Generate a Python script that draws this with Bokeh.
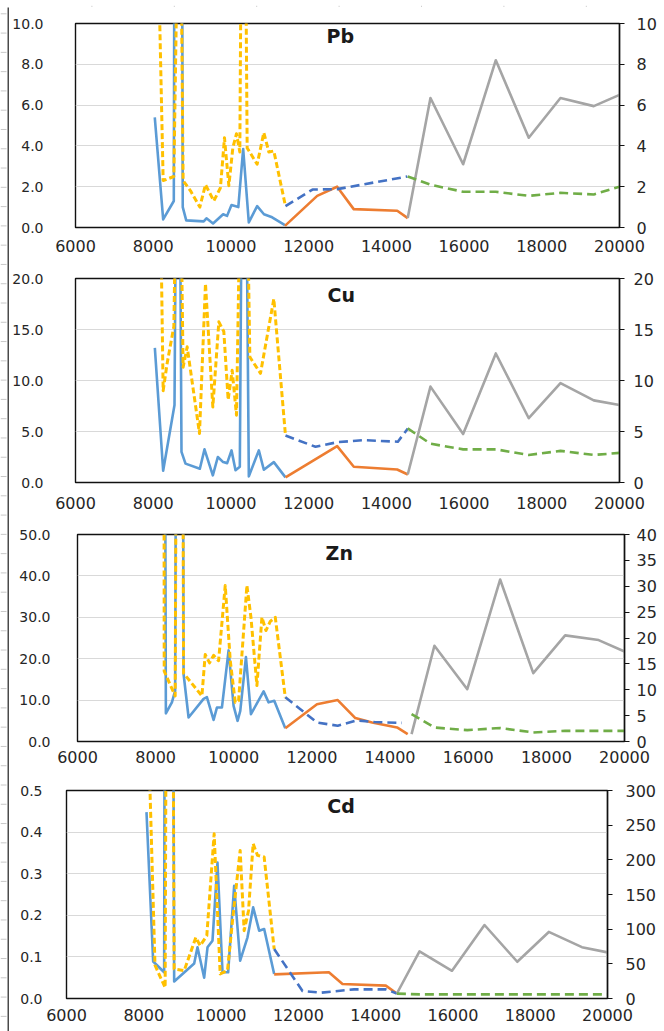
from bokeh.plotting import figure
from bokeh.layouts import column, row
from bokeh.models import Range1d, LinearAxis, FixedTicker, PrintfTickFormatter, Label
from bokeh.embed import file_html
from bokeh.resources import INLINE

# ---------------- data ----------------
x_ticks = [6000, 8000, 10000, 12000, 14000, 16000, 18000, 20000]

# common depth positions of the later (gray / green) series
late_x = [14550, 15135, 15976, 16817, 17665, 18481, 19338, 20000]

# Pb
pb_blue_x = [8040, 8256, 8530, 8640, 8760, 8850, 9300, 9370, 9540, 9800, 9900, 10015, 10190, 10315, 10460, 10675, 10850, 11060, 11390]
pb_blue_y = [5.4, 0.4, 1.3, 100.0, 1.0, 0.35, 0.3, 0.45, 0.2, 0.65, 0.57, 1.1, 1.0, 3.85, 0.25, 1.05, 0.65, 0.5, 0.12]
pb_yel_x = [8160, 8256, 8531, 8680, 8770, 8960, 9200, 9345, 9560, 9730, 9834, 9946, 10049, 10143, 10229, 10315, 10418, 10675, 10847, 10976, 11104, 11404]
pb_yel_y = [10.8, 2.3, 2.5, 21.0, 2.3, 1.8, 1.0, 2.1, 1.3, 1.95, 4.4, 2.05, 3.9, 4.6, 3.7, 30.0, 3.9, 3.1, 4.65, 3.7, 3.75, 1.05]
pb_bdash_x = [11404, 12100, 12733, 14540]
pb_bdash_y = [1.05, 1.86, 1.88, 2.5]
pb_orange_x = [11390, 12220, 12733, 13160, 14280, 14550]
pb_orange_y = [0.08, 1.55, 2.0, 0.9, 0.82, 0.46]
pb_gray_y = [0.46, 6.35, 3.1, 8.2, 4.4, 6.35, 5.95, 6.5]
pb_green_y = [2.5, 2.1, 1.75, 1.75, 1.55, 1.7, 1.62, 2.0]

# Cu
cu_blue_x = [8042, 8256, 8548, 8640, 8728, 8831, 9200, 9320, 9534, 9663, 9800, 9903, 10015, 10118, 10229, 10330, 10461, 10718, 10847, 11104, 11404]
cu_blue_y = [13.2, 1.15, 7.6, 60.0, 3.0, 1.85, 1.35, 3.25, 0.7, 2.5, 2.0, 1.9, 3.15, 1.2, 1.55, 60.0, 0.6, 3.15, 1.25, 2.0, 0.5]
cu_yel_x = [8213, 8256, 8359, 8531, 8650, 8770, 8874, 9191, 9345, 9534, 9689, 9817, 9929, 10032, 10143, 10330, 10487, 10761, 11104, 11404]
cu_yel_y = [20.5, 9.0, 11.7, 15.3, 45.0, 11.3, 13.3, 4.8, 19.5, 7.4, 15.75, 14.8, 8.1, 11.0, 6.6, 50.0, 12.3, 10.7, 18.0, 4.6]
cu_bdash_x = [11404, 12177, 12734, 13420, 14296, 14553]
cu_bdash_y = [4.6, 3.5, 3.95, 4.15, 4.0, 5.3]
cu_orange_x = [11404, 12734, 13162, 14277, 14553]
cu_orange_y = [0.5, 3.56, 1.54, 1.27, 0.78]
cu_gray_y = [0.78, 9.4, 4.75, 12.65, 6.3, 9.75, 8.05, 7.6]
cu_green_y = [5.3, 3.8, 3.25, 3.25, 2.7, 3.1, 2.7, 2.9]

# Zn
zn_blue_x = [8219, 8262, 8416, 8500, 8620, 8715, 8843, 9227, 9312, 9483, 9568, 9696, 9867, 9995, 10097, 10166, 10311, 10439, 10763, 10891, 11036, 11318]
zn_blue_y = [150.0, 6.8, 9.45, 12.3, 400.0, 16.3, 5.8, 10.3, 10.7, 5.2, 8.2, 8.2, 22.0, 8.6, 5.0, 7.4, 20.4, 6.6, 12.1, 9.45, 9.85, 3.2]
zn_yel_x = [8205, 8219, 8500, 8620, 8715, 9184, 9269, 9380, 9483, 9611, 9781, 9910, 10038, 10123, 10336, 10439, 10592, 10720, 10823, 10934, 11062, 11318]
zn_yel_y = [200.0, 17.0, 11.0, 300.0, 16.5, 11.0, 21.0, 19.0, 20.8, 19.5, 37.7, 19.5, 9.45, 9.85, 37.7, 30.0, 13.5, 30.0, 26.8, 29.0, 30.0, 10.7]
zn_bdash_x = [11318, 12129, 12660, 13150, 13600, 14300]
zn_bdash_y = [10.7, 4.6, 3.8, 5.1, 4.7, 4.5]
zn_orange_x = [11318, 12129, 12660, 13111, 13539, 14179, 14451]
zn_orange_y = [3.2, 9.0, 10.0, 5.65, 4.6, 3.4, 1.8]
zn_gray_y = [1.42, 18.5, 10.1, 31.3, 13.2, 20.5, 19.6, 17.4]
zn_green_y = [5.3, 2.7, 2.2, 2.6, 1.75, 2.05, 2.05, 2.05]

# Cd
cd_blue_x = [8070, 8243, 8527, 8620, 8786, 9304, 9390, 9563, 9649, 9778, 9907, 10037, 10183, 10339, 10494, 10684, 10830, 10986, 11115, 11374]
cd_blue_y = [0.448, 0.089, 0.063, 5.0, 0.041, 0.084, 0.123, 0.05, 0.123, 0.139, 0.327, 0.063, 0.063, 0.271, 0.091, 0.147, 0.219, 0.163, 0.167, 0.059]
cd_yel_x = [8130, 8290, 8553, 8660, 8786, 9045, 9347, 9459, 9631, 9821, 9977, 10166, 10296, 10494, 10597, 10710, 10830, 10943, 11115, 11374]
cd_yel_y = [0.6, 0.08, 0.026, 3.0, 0.071, 0.067, 0.147, 0.127, 0.151, 0.396, 0.059, 0.067, 0.187, 0.356, 0.163, 0.211, 0.372, 0.344, 0.34, 0.119]
cd_bdash_x = [11374, 12107, 12582, 13443, 14263, 14548]
cd_bdash_y = [0.119, 0.018, 0.014, 0.022, 0.022, 0.012]
cd_orange_x = [11374, 12790, 13142, 14263, 14548]
cd_orange_y = [0.058, 0.063, 0.035, 0.031, 0.012]
cd_gray_y = [7.2, 68.0, 40.0, 106.0, 53.0, 96.0, 74.0, 66.5]
cd_green_y = [7.0, 6.0, 6.0, 6.0, 6.0, 6.0, 6.0, 6.0]

# ---------------- styling ----------------
FONT = "DejaVu Sans"
TXT = "#262626"
C_BLUE = "#5B9BD5"
C_YEL = "#FFC000"
C_BDASH = "#4472C4"
C_ORANGE = "#ED7D31"
C_GRAY = "#A5A5A5"
C_GREEN = "#70AD47"
SEP = "#4a4a4a"
COL_W = 655


def no_align(fig):
    # keep every panel's frame where its own borders put it
    if "frame_align" in fig.properties():
        fig.frame_align = False
    return fig


def panel(h, bl, br, bt, bb, ymax, ystep, rmax, rstep, lfmt, lstand, rstand, bstand,
          name, tx, ty, blue, yel, bdash, orange, gray_y, green_y):
    p = figure(width=COL_W, height=h, x_range=Range1d(6000, 20000), y_range=Range1d(0, ymax),
               output_backend="svg", toolbar_location=None,
               min_border_left=bl, min_border_right=br, min_border_top=bt, min_border_bottom=bb)
    no_align(p)
    p.extra_y_ranges = {"right": Range1d(0, rmax)}
    p.background_fill_color = "white"
    p.border_fill_color = "white"
    p.outline_line_color = "#111111"
    p.outline_line_width = 1.4

    lticks = [round(i * ystep, 6) for i in range(int(round(ymax / ystep)) + 1)]
    rticks = [round(i * rstep, 6) for i in range(int(round(rmax / rstep)) + 1)]

    xa = p.xaxis[0]
    xa.ticker = FixedTicker(ticks=x_ticks)
    xa.axis_line_color = None
    xa.major_tick_line_color = None
    xa.minor_tick_line_color = None
    xa.major_tick_out = 0
    xa.major_tick_in = 0
    xa.major_label_standoff = bstand
    xa.major_label_text_font = FONT
    xa.major_label_text_font_size = "16px"
    xa.major_label_text_color = TXT

    ya = p.yaxis[0]
    ya.ticker = FixedTicker(ticks=lticks)
    ya.formatter = PrintfTickFormatter(format=lfmt)
    ya.axis_line_color = None
    ya.major_tick_line_color = None
    ya.minor_tick_line_color = None
    ya.major_tick_out = 0
    ya.major_tick_in = 0
    ya.major_label_standoff = lstand
    ya.major_label_text_font = FONT
    ya.major_label_text_font_size = "14px"
    ya.major_label_text_color = TXT

    ra = LinearAxis(y_range_name="right", ticker=FixedTicker(ticks=rticks),
                    formatter=PrintfTickFormatter(format="%d"))
    ra.axis_line_color = "#111111"
    ra.axis_line_width = 1.4
    ra.major_tick_line_color = "#111111"
    ra.major_tick_line_width = 1.2
    ra.major_tick_out = 5
    ra.major_tick_in = 0
    ra.minor_tick_line_color = None
    ra.minor_tick_out = 0
    ra.minor_tick_in = 0
    ra.major_label_standoff = rstand
    ra.major_label_text_font = FONT
    ra.major_label_text_font_size = "16px"
    ra.major_label_text_color = TXT
    p.add_layout(ra, "right")

    p.xgrid.visible = False
    p.ygrid.ticker = FixedTicker(ticks=lticks)
    p.ygrid.grid_line_color = "#D9D9D9"
    p.ygrid.grid_line_width = 1.2

    lw = 2.6
    p.line(blue[0], blue[1], color=C_BLUE, line_width=lw, line_join="round")
    p.line(yel[0], yel[1], color=C_YEL, line_width=3, line_dash="6 3", line_join="round")
    p.line(orange[0], orange[1], color=C_ORANGE, line_width=lw, line_join="round")
    p.line(bdash[0], bdash[1], color=C_BDASH, line_width=lw, line_dash="9 5", line_join="round")
    p.line(late_x, gray_y, color=C_GRAY, line_width=lw, line_join="round", y_range_name="right")
    p.line(late_x, green_y, color=C_GREEN, line_width=lw, line_dash="9 5", line_join="round",
           y_range_name="right")

    p.add_layout(Label(x=tx, y=ty, text=name, text_font=FONT, text_font_style="bold",
                       text_font_size="19px", text_color="#1a1a1a", text_baseline="top",
                       text_align="left"))
    return p


def separator(h):
    s = figure(width=COL_W, height=h, x_range=Range1d(0, 1), y_range=Range1d(0, 1),
               output_backend="svg", toolbar_location=None, min_border=0,
               x_axis_location=None, y_axis_location=None)
    no_align(s)
    s.background_fill_color = SEP
    s.border_fill_color = SEP
    s.outline_line_color = None
    s.grid.visible = False
    return s


# thin strip above the first panel with spreadsheet cell lines
top = figure(width=COL_W, height=7, x_range=Range1d(0, COL_W), y_range=Range1d(0, 7),
             output_backend="svg", toolbar_location=None, min_border=0,
             x_axis_location=None, y_axis_location=None)
no_align(top)
top.outline_line_color = None
top.grid.visible = False
cell_x = [82.4 * i for i in range(1, 8)]
top.segment(x0=cell_x, y0=[0] * 7, x1=cell_x, y1=[7] * 7, color="#cfcfcf", line_width=1)

# left strip: worksheet edge with row lines
left = figure(width=9, height=1031, x_range=Range1d(0, 9), y_range=Range1d(1031, 0),
              output_backend="svg", toolbar_location=None, min_border=0,
              x_axis_location=None, y_axis_location=None)
no_align(left)
left.outline_line_color = None
left.grid.visible = False
row_y = [13.3 + 19.28 * i for i in range(53)]
left.segment(x0=[0] * len(row_y), y0=row_y, x1=[6] * len(row_y), y1=row_y, color="#c8c8c8", line_width=1)
left.segment(x0=[8], y0=[7], x1=[8], y1=[1031], color=SEP, line_width=2)

p1 = panel(253, 66, 45, 14, 35, 10, 2, 10, 2, "%.1f", 32, 12, 12, "Pb", 12460, 9.95,
           (pb_blue_x, pb_blue_y), (pb_yel_x, pb_yel_y), (pb_bdash_x, pb_bdash_y),
           (pb_orange_x, pb_orange_y), pb_gray_y, pb_green_y)
p2 = panel(254, 66, 45, 14, 36, 20, 5, 20, 5, "%.1f", 32, 9, 14, "Cu", 12485, 19.5,
           (cu_blue_x, cu_blue_y), (cu_yel_x, cu_yel_y), (cu_bdash_x, cu_bdash_y),
           (cu_orange_x, cu_orange_y), cu_gray_y, cu_green_y)
p3 = panel(256, 68, 40, 14, 35, 50, 10, 40, 5, "%.1f", 27, 7, 9, "Zn", 12350, 48.3,
           (zn_blue_x, zn_blue_y), (zn_yel_x, zn_yel_y), (zn_bdash_x, zn_bdash_y),
           (zn_orange_x, zn_orange_y), zn_gray_y, zn_green_y)
p4 = panel(253, 57, 57, 12, 33, 0.5, 0.1, 300, 50, "%.1f", 24, 13, 10, "Cd", 12750, 0.49,
           (cd_blue_x, cd_blue_y), (cd_yel_x, cd_yel_y), (cd_bdash_x, cd_bdash_y),
           (cd_orange_x, cd_orange_y), cd_gray_y, cd_green_y)

col = column(top, separator(2), p1, separator(2), p2, separator(2), p3, separator(2), p4, spacing=0)
layout = row(left, col, spacing=0)

open("out.html", "w").write(file_html(layout, INLINE))
